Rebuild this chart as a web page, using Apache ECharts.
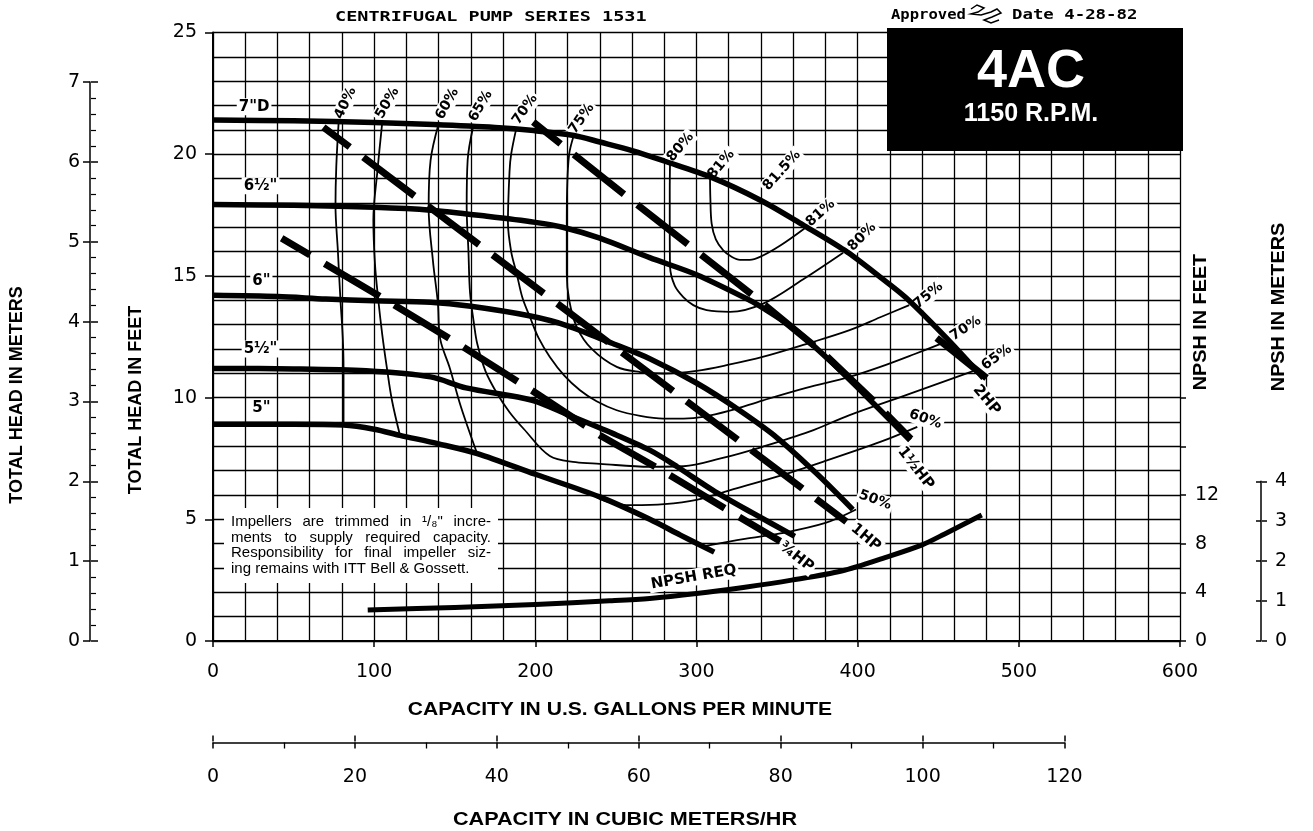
<!DOCTYPE html>
<html><head><meta charset="utf-8">
<script src="https://cdn.jsdelivr.net/npm/echarts@6/dist/echarts.min.js"></script>
<style>html,body{margin:0;padding:0;background:#fff}#c{width:1313px;height:831px}</style>
</head><body><div id="c"></div>
<script>
// ---------- data (gpm, total head ft) ----------
const gpmTicks = [0, 100, 200, 300, 400, 500, 600];
const headFtTicks = [0, 5, 10, 15, 20, 25];
const npshFtTicks = [0, 4, 8, 12];
const npshFtTickMarks = [0, 4, 8, 12, 16, 20];
const headMeterTicks = [0, 1, 2, 3, 4, 5, 6, 7];
const npshMeterTicks = [0, 1, 2, 3, 4];
const cubicTicks = [0, 20, 40, 60, 80, 100, 120];

const imp7 = [[0,21.4],[50,21.37],[100,21.3],[137,21.22],[175,21.1],[199,20.97],[224,20.77],[240,20.5],[260,20.15],[280,19.72],[309,19.06],[340,18.1],[366,17.1],[392,16.05],[414,14.95],[430,14.1],[455,12.45],[478,10.8]];
const imp65 = [[0,17.93],[50,17.9],[100,17.82],[135,17.7],[170,17.45],[200,17.2],[217,17.0],[240,16.55],[271,15.75],[300,15.05],[333,14.0],[342,13.65],[360,12.85],[383,11.5],[410,9.75],[432.5,8.25]];
const imp6 = [[0,14.2],[40,14.15],[70,14.05],[100,13.98],[135,13.92],[160,13.75],[197,13.35],[220,12.95],[248,12.22],[271,11.6],[300,10.6],[325,9.55],[350,8.35],[375,6.85],[397,5.4]];
const imp55 = [[0,11.2],[50,11.18],[95,11.1],[135,10.85],[157,10.4],[198,9.89],[220,9.3],[248,8.53],[271,7.84],[288,7.16],[310,6.2],[335,5.25],[361,4.3]];
const imp5 = [[0,8.9],[50,8.9],[81,8.87],[100,8.7],[116,8.45],[140,8.1],[164,7.7],[200,6.85],[240,5.92],[271,5.0],[290,4.35],[311,3.65]];

const eff40 = [[78,21.35],[76.5,19.5],[76,17.9],[77.5,16],[79,14.1],[80.5,12.5],[81,11.2],[81,8.9]];
const eff50 = [[105,21.3],[102,19.3],[99.5,17.3],[100.5,15.5],[102.5,14.05],[105,12.6],[107.8,11.26],[111,9.9],[116,8.45]];
const eff50b = [[305,3.9],[330,4.2],[352,4.42],[380,4.85],[399,5.4]];
const eff60 = [[140,21.25],[135,19.75],[133.8,17.8],[136.5,15.6],[139.5,13.9],[141,12.4],[147,11.2],[153,9.8],[158,8.8],[163.6,7.75]];
const eff60b = [[234,6.05],[245,5.72],[260,5.58],[280,5.62],[300,5.8],[321,6.2],[350,6.75],[380,7.4],[414,8.18],[437,8.8]];
const eff65 = [[161.5,21.15],[158,19.75],[157.4,17.83],[158.5,16],[159.5,14.3],[162,13],[164,12.2],[169,11.1],[176,10.2],[184,9.4],[193,8.7],[209,7.6],[225,7.35],[240,7.28],[271,7.16],[292,7.18],[315,7.5],[341,7.98],[370,8.6],[395,9.28],[430,10.1],[472,11.1]];
const eff70 = [[188,21.0],[185,20.0],[184,19.3],[183,17.2],[185,16],[188.4,15.1],[192,14.1],[196.7,13.3],[202,12.45],[209,11.67],[218,10.9],[227.7,10.3],[238,9.85],[250.5,9.48],[265,9.25],[279.4,9.14],[292,9.14],[304.2,9.21],[320,9.45],[341.4,9.89],[368,10.4],[395,10.85],[414,11.26],[435,11.78],[455,12.3]];
const eff75 = [[224,20.8],[221,20.0],[219.7,18.5],[219.5,17],[219.5,15.1],[221,14.0],[225.7,12.9],[235,12.0],[250.5,11.26],[265,11.05],[279.4,10.99],[300,11.1],[320,11.35],[341,11.67],[368,12.2],[395,12.77],[414,13.3],[432,13.8]];
const eff80 = [[283.6,19.72],[283.4,18.5],[283.4,17.0],[283.6,15.37],[286.5,14.6],[291.8,14.13],[298,13.8],[306.3,13.59],[320.8,13.52],[341.4,13.86],[366,14.85],[391,15.95]];
const eff81 = [[308.4,19.06],[308.6,18.2],[309.4,17.15],[312,16.5],[316.6,16.05],[322,15.78],[327,15.66],[333,15.66],[339.4,15.78],[352,16.25],[367,16.95]];

const hp34 = [[42.6,16.55],[100,14.3],[150,12.3],[200,10.2],[240,8.45],[280,6.95],[325,5.15],[352,4.1]];
const hp1 = [[68.5,21.11],[393,4.9]];
const hp15 = [[198.7,21.32],[255,18.35],[294,16.33],[335,14.2],[380,11.75],[410,9.85],[433,8.3]];
const hp2 = [[449,12.45],[481,10.75]];

// NPSH required, in NPSH feet (right scale)
const npshReq = [[96,2.54],[150,2.76],[200,3.0],[246,3.3],[271,3.5],[300,3.9],[329,4.4],[359,5.0],[390,5.75],[418,6.9],[440,7.9],[454,8.8],[477,10.35]];

// curve labels: text, gpm, head ft
const impellerLabels = [['7"D',25.5,21.95],['6½"',29.5,18.7],['6"',30,14.8],['5½"',29.5,12.0],['5"',30,9.55]];
const effLabels = [
  ['40%',82.3,22.1],['50%',108.2,22.1],['60%',145.4,22.07],['65%',166.1,21.98],['70%',193.6,21.84],['75%',228.8,21.46],
  ['80%',290,20.29],['81%',315.4,19.58],['81.5%',353,19.33],['81%',377,17.58],['80%',402.7,16.6],
  ['75%',443.8,14.2],['70%',467,12.84],['65%',486.3,11.65],['60%',442,9.11],['50%',410.8,5.79]
];
const effAngles = [65,60,61,60,55,55, 50,50,48,42,45, 40,33,36,-20,-20];
const hpLabels = [['2HP',480,9.9],['1½HP',436,7.1],['1HP',405,4.25],['¾HP',362,3.45],['NPSH REQ',298.3,2.62]];
const hpAngles = [-50,-52,-40,-38,10];

const noteLines = ['Impellers are trimmed in ¹/₈" incre-','ments to supply required capacity.','Responsibility for final impeller siz-','ing remains with ITT Bell & Gossett.'];

// ---------- chart ----------
const chart = echarts.init(document.getElementById('c'), null, {renderer:'canvas'});
const BLACK = '#000';
const tickFont = {fontFamily:'DejaVu Sans', fontSize:19, color:BLACK};

function lineSeries(data, width, extra) {
  return Object.assign({type:'line', xAxisIndex:0, yAxisIndex:0, data:data, showSymbol:false, symbol:'none', silent:true,
    smooth:0.3, lineStyle:{color:BLACK, width:width, cap:'butt', join:'round'}, z:3}, extra||{});
}
function labelSeries(list, angles, size, z) {
  return {type:'scatter', xAxisIndex:0, yAxisIndex:0, silent:true, symbolSize:0, itemStyle:{color:BLACK, opacity:1}, z:z,
    data: list.map((l,i)=>({value:[l[1], l[2]], label:{formatter:l[0], rotate:angles ? angles[i] : 0}})),
    label:{show:true, position:'inside', color:BLACK, fontFamily:'DejaVu Sans', fontWeight:'bold', fontSize:size,
      backgroundColor:'#fff', padding:[1,2]}};
}
const series = [];
[imp7, imp65, imp6, imp55, imp5].forEach(d => series.push(lineSeries(d, 5.5, {z:4})));
[eff40, eff50, eff50b, eff60, eff60b, eff65, eff70, eff75, eff80, eff81].forEach(d => series.push(lineSeries(d, 1.8, {smooth:0.35})));
[[hp34,31],[hp1,31],[hp15,29],[hp2,0]].forEach(([d,off]) => series.push(lineSeries(d, 7, {smooth:false, lineStyle:{color:BLACK, width:7, type:[64,17], dashOffset:off, cap:'butt'}})));
series.push(lineSeries(npshReq, 5, {yAxisIndex:1, smooth:0.3}));
series.push(labelSeries(impellerLabels, null, 15, 1));
series.push(labelSeries(effLabels, effAngles, 14, 1));
series.push(labelSeries(hpLabels, hpAngles, 15, 5));

const graphics = [];
function txt(x, y, text, font, opts) {
  graphics.push(Object.assign({type:'text', x:x, y:y, z:100, silent:true,
    style:{text:text, font:font, fill:(opts&&opts.fill)||BLACK, align:(opts&&opts.align)||'left', verticalAlign:'middle'}},
    opts&&opts.el ? opts.el : {}));
}
// header
txt(335, 17, 'CENTRIFUGAL PUMP SERIES 1531', 'bold 14px "DejaVu Sans Mono"', {el:{scaleX:1.32}});
txt(891, 15, 'Approved', 'bold 14px "DejaVu Sans Mono"', {el:{scaleX:1.11}});
txt(1012, 15, 'Date 4-28-82', 'bold 14px "DejaVu Sans Mono"', {el:{scaleX:1.24}});
graphics.push({type:'polyline', z:100, silent:true, shape:{points:[[971,9],[977,5],[984,8],[978,12],[971,14],[981,15],[991,12],[997,9],[1001,13],[992,17],[984,20],[991,23],[999,20]]}, style:{stroke:BLACK, lineWidth:1.5, fill:null}});
// black box
graphics.push({type:'rect', z:100, silent:true, shape:{x:887, y:28, width:296, height:123}, style:{fill:'#000'}});
txt(1031, 72, '4AC', 'bold 54px "Liberation Sans"', {fill:'#fff', align:'center'});
txt(1031, 114, '1150 R.P.M.', 'bold 25px "Liberation Sans"', {fill:'#fff', align:'center'});
// note box
graphics.push({type:'rect', z:99, silent:true, shape:{x:224, y:508, width:274, height:75}, style:{fill:'#fff'}});
(function(){
  const font = '15px "Liberation Sans"';
  const ctx = document.createElement('canvas').getContext('2d');
  ctx.font = font;
  const ys = [522, 537.5, 553.3, 569.3];
  noteLines.forEach((line, li) => {
    if (li === 3) { txt(231, ys[li], line, font); return; }
    const words = line.split(' ');
    const ws = words.map(w => ctx.measureText(w).width);
    const gap = (260 - ws.reduce((a,b)=>a+b,0)) / (words.length - 1);
    let cx = 231;
    words.forEach((w,i) => { txt(cx, ys[li], w, font); cx += ws[i] + gap; });
  });
})();
// axis titles
const titleFont = 'bold 18px "Liberation Sans"';
txt(17, 395, 'TOTAL HEAD IN METERS', titleFont, {align:'center', el:{rotation:Math.PI/2}});
txt(136, 400, 'TOTAL HEAD IN FEET', titleFont, {align:'center', el:{rotation:Math.PI/2}});
txt(1201, 322, 'NPSH IN FEET', titleFont, {align:'center', el:{rotation:Math.PI/2, scaleX:1.1}});
txt(1279, 307, 'NPSH IN METERS', titleFont, {align:'center', el:{rotation:Math.PI/2, scaleX:1.1}});
txt(620, 710, 'CAPACITY IN U.S. GALLONS PER MINUTE', titleFont, {align:'center', el:{scaleX:1.17}});
txt(625, 820, 'CAPACITY IN CUBIC METERS/HR', titleFont, {align:'center', el:{scaleX:1.2}});

const gridLine = {show:true, lineStyle:{color:BLACK, width:1.3}};
const option = {
  animation:false,
  backgroundColor:'#fff',
  grid:[
    {left:213, top:32.5, width:967, height:608.5},
    {left:90, top:82, width:1, height:559},
    {left:1261, top:481.3, width:1, height:159.7},
    {left:213, top:741.5, width:851.5, height:1}
  ],
  xAxis:[
    {gridIndex:0, type:'value', min:0, max:600, interval:100, position:'bottom',
      axisLine:{show:true, lineStyle:{color:BLACK, width:2}}, axisTick:{show:true, length:6, lineStyle:{color:BLACK, width:1.5}},
      axisLabel:Object.assign({margin:22, customValues:gpmTicks}, tickFont),
      splitLine:gridLine, minorTick:{show:false, splitNumber:5}, minorSplitLine:gridLine},
    {gridIndex:1, type:'value', show:false, min:0, max:1},
    {gridIndex:2, type:'value', show:false, min:0, max:1},
    {gridIndex:3, type:'value', min:0, max:120, interval:20, position:'bottom',
      axisLine:{show:true, lineStyle:{color:BLACK, width:1.5}}, axisTick:{show:true, length:6, lineStyle:{color:BLACK, width:1.5}},
      minorTick:{show:true, splitNumber:2, length:6, lineStyle:{color:BLACK, width:1.3}},
      axisLabel:Object.assign({margin:25, customValues:cubicTicks}, tickFont), splitLine:{show:false}},
    {gridIndex:3, type:'value', min:0, max:120, interval:20, position:'top',
      axisLine:{show:false}, axisTick:{show:true, length:6, lineStyle:{color:BLACK, width:1.5}},
      axisLabel:{show:false}, splitLine:{show:false}}
  ],
  yAxis:[
    {gridIndex:0, type:'value', min:0, max:25, interval:5, position:'left',
      axisLine:{show:true, lineStyle:{color:BLACK, width:2}}, axisTick:{show:true, length:8, lineStyle:{color:BLACK, width:1.5}},
      axisLabel:Object.assign({margin:16, customValues:headFtTicks}, tickFont),
      splitLine:gridLine, minorTick:{show:false, splitNumber:5}, minorSplitLine:gridLine},
    {gridIndex:0, type:'value', min:0, max:50, position:'right',
      axisLine:{show:false}, axisTick:{show:true, length:6, customValues:npshFtTickMarks, lineStyle:{color:BLACK, width:1.5}},
      axisLabel:Object.assign({margin:15, customValues:npshFtTicks}, tickFont), splitLine:{show:false}},
    {gridIndex:1, type:'value', min:0, max:7, interval:1, position:'left',
      axisLine:{show:true, lineStyle:{color:BLACK, width:1.5}}, axisTick:{show:true, length:7, lineStyle:{color:BLACK, width:1.5}},
      axisLabel:Object.assign({margin:10, customValues:headMeterTicks}, tickFont), splitLine:{show:false}},
    {gridIndex:1, type:'value', min:0, max:7, interval:1, position:'right',
      axisLine:{show:false}, axisTick:{show:true, length:7, lineStyle:{color:BLACK, width:1.5}},
      minorTick:{show:true, splitNumber:5, length:5, lineStyle:{color:BLACK, width:1.2}},
      axisLabel:{show:false}, splitLine:{show:false}},
    {gridIndex:2, type:'value', min:0, max:4, interval:1, position:'left',
      axisLine:{show:true, lineStyle:{color:BLACK, width:1.5}}, axisTick:{show:true, length:5, lineStyle:{color:BLACK, width:1.5}},
      axisLabel:{show:false}, splitLine:{show:false}},
    {gridIndex:2, type:'value', min:0, max:4, interval:1, position:'right',
      axisLine:{show:false}, axisTick:{show:true, length:5, lineStyle:{color:BLACK, width:1.5}},
      axisLabel:Object.assign({margin:13, customValues:npshMeterTicks}, tickFont), splitLine:{show:false}},
    {gridIndex:3, type:'value', show:false, min:0, max:1}
  ],
  series:series,
  graphic:{elements:graphics}
};
chart.setOption(option);
</script>
</body></html>
